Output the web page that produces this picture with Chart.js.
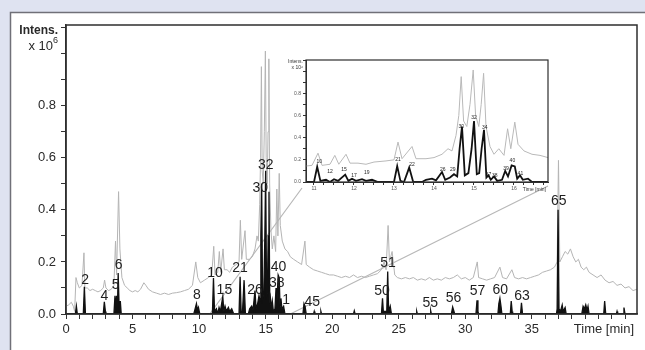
<!DOCTYPE html>
<html>
<head>
<meta charset="utf-8">
<script src="https://cdn.jsdelivr.net/npm/chart.js@4.4.1/dist/chart.umd.min.js"></script>
<style>
  html, body { margin: 0; padding: 0; background: #dfe3f1; }
  #wrap { position: relative; width: 645px; height: 350px; overflow: hidden; }
  #main { position: absolute; left: 0; top: 0; }
  #inset { position: absolute; left: 270px; top: 50px; }
</style>
</head>
<body>
<div id="wrap">
  <canvas id="main" width="645" height="350"></canvas>
  <canvas id="inset" width="290" height="150"></canvas>
</div>
<script>
// time in minutes, intensity in x10^6
// grey trace (total ion current)
const ticTime = [0.0, 0.2, 0.4, 0.55, 0.65, 0.75, 0.85, 1.0, 1.2, 1.35, 1.42, 1.6, 1.8, 2.0, 2.2, 2.4, 2.6, 2.8, 2.9, 3.0,
  3.2, 3.4, 3.6, 3.72, 3.8, 3.95, 4.05, 4.2, 4.4, 4.6, 4.8, 5.0, 5.2, 5.4, 5.6, 5.85, 6.0, 6.2, 6.5, 6.8,
  7.1, 7.4, 7.7, 8.0, 8.3, 8.6, 8.9, 9.2, 9.5, 9.75, 9.9, 10.1, 10.4, 10.7, 10.95, 11.1, 11.2, 11.4, 11.52, 11.62,
  11.8, 11.9, 12.1, 12.3, 12.5, 12.8, 13.0, 13.1, 13.2, 13.45, 13.55, 13.8, 14.0, 14.2, 14.35, 14.45, 14.55, 14.62, 14.68, 14.74,
  14.82, 14.9, 14.98, 15.04, 15.12, 15.18, 15.24, 15.3, 15.4, 15.5, 15.62, 15.75, 15.84, 15.92, 16.02, 16.1, 16.25, 16.45, 16.65, 16.85,
  17.1, 17.4, 17.7, 17.95, 18.05, 18.3, 18.6, 18.9, 19.2, 19.5, 19.8, 20.1, 20.4, 20.7, 21.0, 21.3, 21.6, 21.9, 22.2, 22.5,
  22.8, 23.1, 23.4, 23.7, 23.9, 24.05, 24.2, 24.3, 24.5, 24.7, 24.9, 25.2, 25.5, 25.8, 26.1, 26.4, 26.7, 27.0, 27.3, 27.6,
  27.9, 28.2, 28.5, 28.8, 29.1, 29.4, 29.7, 30.0, 30.3, 30.6, 30.9, 31.0, 31.3, 31.6, 31.9, 32.2, 32.6, 32.8, 33.1, 33.5,
  33.7, 34.0, 34.3, 34.6, 34.9, 35.2, 35.5, 35.8, 36.1, 36.4, 36.7, 36.9, 37.0, 37.1, 37.3, 37.5, 37.7, 37.9, 38.1, 38.3,
  38.5, 38.7, 38.9, 39.1, 39.3, 39.6, 39.9, 40.2, 40.5, 40.8, 41.1, 41.4, 41.7, 42.0, 42.3, 42.6, 42.9];
const ticIntens = [0.03, 0.035, 0.045, 0.03, 0.01, 0.14, 0.12, 0.10, 0.11, 0.235, 0.10, 0.10, 0.09, 0.095, 0.09, 0.085, 0.09, 0.10, 0.13, 0.10,
  0.09, 0.095, 0.11, 0.28, 0.15, 0.47, 0.25, 0.14, 0.11, 0.10, 0.09, 0.085, 0.09, 0.085, 0.095, 0.12, 0.11, 0.095, 0.085, 0.08,
  0.075, 0.08, 0.075, 0.08, 0.082, 0.085, 0.09, 0.095, 0.11, 0.20, 0.14, 0.12, 0.13, 0.14, 0.15, 0.26, 0.15, 0.16, 0.24, 0.16,
  0.25, 0.17, 0.17, 0.16, 0.18, 0.19, 0.20, 0.36, 0.21, 0.32, 0.21, 0.21, 0.22, 0.25, 0.30, 0.28, 0.42, 0.60, 0.95, 0.55,
  0.50, 0.70, 1.01, 0.60, 0.50, 0.70, 0.98, 0.50, 0.32, 0.25, 0.30, 0.24, 0.48, 0.30, 0.54, 0.34, 0.28, 0.25, 0.24, 0.22,
  0.21, 0.20, 0.19, 0.28, 0.19, 0.18, 0.17, 0.165, 0.16, 0.155, 0.15, 0.15, 0.145, 0.14, 0.145, 0.14, 0.15, 0.14, 0.145, 0.14,
  0.145, 0.15, 0.155, 0.17, 0.20, 0.17, 0.34, 0.20, 0.24, 0.15, 0.14, 0.135, 0.14, 0.135, 0.14, 0.13, 0.135, 0.13, 0.14, 0.13,
  0.135, 0.13, 0.14, 0.135, 0.14, 0.15, 0.135, 0.14, 0.13, 0.14, 0.20, 0.14, 0.135, 0.13, 0.135, 0.14, 0.18, 0.14, 0.135, 0.17,
  0.14, 0.135, 0.14, 0.135, 0.14, 0.145, 0.15, 0.16, 0.165, 0.17, 0.18, 0.20, 0.59, 0.20, 0.22, 0.24, 0.23, 0.25, 0.22, 0.20,
  0.21, 0.18, 0.17, 0.18, 0.16, 0.15, 0.14, 0.15, 0.13, 0.12, 0.125, 0.11, 0.115, 0.10, 0.105, 0.09, 0.095];

// black trace (extracted ion current)
const eicTime = [0.0, 0.7, 0.78, 0.85, 1.3, 1.38, 1.46, 2.8, 2.88, 2.96, 3.0, 3.6, 3.68, 3.74, 3.8, 3.86, 3.92, 4.0, 4.08, 4.15,
  9.6, 9.7, 9.8, 9.88, 9.95, 10.05, 11.0, 11.08, 11.16, 11.3, 11.4, 11.5, 11.6, 11.78, 11.86, 11.95, 12.05, 12.2, 12.3, 12.45,
  12.6, 13.0, 13.08, 13.16, 13.25, 13.38, 13.48, 13.7, 13.8, 13.95, 14.05, 14.2, 14.28, 14.4, 14.5, 14.58, 14.64, 14.7, 14.77, 14.86,
  14.94, 15.0, 15.07, 15.13, 15.19, 15.25, 15.31, 15.36, 15.42, 15.5, 15.58, 15.7, 15.78, 15.85, 15.94, 16.02, 16.08, 16.15, 16.22, 16.35,
  16.45, 17.8, 17.88, 17.96, 18.05, 18.6, 18.65, 18.7, 19.1, 19.15, 19.2, 21.6, 21.66, 21.72, 23.7, 23.78, 23.84, 24.1, 24.17, 24.24,
  24.36, 24.45, 26.3, 26.35, 26.4, 27.35, 27.4, 27.45, 28.95, 29.05, 29.15, 29.2, 30.8, 30.88, 30.95, 31.0, 32.45, 32.52, 32.6, 32.68,
  32.75, 33.38, 33.45, 33.52, 33.56, 34.15, 34.22, 34.3, 36.85, 36.9, 36.97, 37.04, 37.15, 37.28, 37.35, 37.5, 37.58, 38.75, 38.85, 38.95,
  39.05, 39.15, 39.22, 39.3, 40.4, 40.47, 40.55, 41.35, 41.4, 41.45, 41.85, 41.92, 42.0];
const eicIntens = [0, 0, 0.03, 0, 0, 0.105, 0, 0, 0.047, 0.01, 0, 0, 0.07, 0.01, 0.07, 0.01, 0.157, 0.01, 0.05, 0,
  0, 0.02, 0.04, 0.015, 0.025, 0, 0, 0.138, 0.01, 0.02, 0, 0.025, 0.01, 0.067, 0.01, 0.03, 0.01, 0.025, 0.01, 0.02,
  0, 0, 0.143, 0.01, 0, 0.13, 0, 0, 0.02, 0.03, 0.015, 0.09, 0.02, 0.04, 0.07, 0.05, 0.3, 0.5, 0.06, 0.08,
  0.3, 0.55, 0.07, 0.08, 0.3, 0.47, 0.04, 0.06, 0.02, 0.05, 0.01, 0.02, 0.10, 0.05, 0.15, 0.14, 0.03, 0.06, 0.02, 0.03,
  0, 0, 0.04, 0.03, 0, 0, 0.01, 0, 0, 0.01, 0, 0, 0.012, 0, 0, 0.06, 0.01, 0.01, 0.163, 0.01,
  0.03, 0, 0, 0.01, 0, 0, 0.012, 0, 0, 0.027, 0.01, 0, 0, 0.053, 0.01, 0, 0, 0.04, 0.06, 0.03,
  0, 0, 0.05, 0.01, 0, 0, 0.043, 0, 0, 0.02, 0.40, 0.02, 0.01, 0.035, 0.01, 0.025, 0, 0, 0.03, 0.02,
  0.035, 0.015, 0.03, 0, 0, 0.05, 0, 0, 0.01, 0, 0, 0.025, 0];

// peak numbers on the main chart
const peakNames = ['2', '4', '5', '6', '8', '10', '15', '21', '26', '30', '32', '38', '40', '1', '45', '50', '51', '55', '56', '57', '60', '63', '65'];
const peakTime = [1.43, 2.88, 3.73, 3.96, 9.83, 11.2, 11.9, 13.08, 14.2, 14.6, 15.01, 15.84, 15.96, 16.54, 18.5, 23.74, 24.19, 27.37, 29.12, 30.92, 32.63, 34.26, 37.02];
const peakLevel = [0.131, 0.067, 0.11, 0.186, 0.073, 0.157, 0.092, 0.176, 0.092, 0.483, 0.573, 0.118, 0.18, 0.054, 0.047, 0.086, 0.195, 0.041, 0.06, 0.086, 0.092, 0.067, 0.432];

// peak numbers on the zoomed inset
const insetNames = ['10', '12', '15', '17', '19', '21', '22', '26', '29', '30', '32', '34', '37', '38', '39', '40', '41'];
const insetTime = [11.13, 11.4, 11.75, 12.0, 12.32, 13.1, 13.45, 14.22, 14.47, 14.68, 15.0, 15.27, 15.36, 15.52, 15.8, 15.96, 16.16];
const insetLevel = [0.18, 0.09, 0.11, 0.055, 0.085, 0.2, 0.16, 0.11, 0.11, 0.5, 0.58, 0.49, 0.065, 0.055, 0.125, 0.19, 0.073];

const zoomRange = [10.8, 16.85];

const family = "'Liberation Sans Narrow', 'Liberation Sans', Arial, sans-serif";

function toPoints(xs, ys) {
  return xs.map((x, i) => ({x: x, y: ys[i]}));
}

function labelPlugin(names, times, levels, font) {
  return {
    id: 'peakText',
    afterDatasetsDraw(chart) {
      const c = chart.ctx, xs = chart.scales.x, ys = chart.scales.y;
      c.save();
      c.font = font;
      c.fillStyle = '#1e1e1e';
      c.textAlign = 'center';
      c.textBaseline = 'middle';
      names.forEach((n, i) => {
        c.fillText(n, xs.getPixelForValue(times[i]), ys.getPixelForValue(levels[i]));
      });
      c.restore();
    }
  };
}

function boxPlugin(width) {
  return {
    id: 'box',
    afterDatasetsDraw(chart) {
      const a = chart.chartArea, c = chart.ctx;
      c.save();
      c.strokeStyle = '#2e2e2e';
      c.lineWidth = width;
      c.strokeRect(a.left, a.top, a.right - a.left, a.bottom - a.top);
      c.restore();
    }
  };
}

// ---------- inset ----------
const insetCanvas = document.getElementById('inset');
const insetTitles = {
  id: 'insetTitles',
  afterDraw(chart) {
    const c = chart.ctx, a = chart.chartArea;
    c.save();
    c.fillStyle = '#333';
    c.font = "5px " + family;
    c.textAlign = 'right';
    c.fillText('Intens.', a.left - 3, a.top + 3);
    c.fillText('x 10\u2076', a.left - 3, a.top + 9);
    c.fillText('Time [min]', a.right - 2, a.bottom + 9);
    c.restore();
  }
};

const insetChart = new Chart(insetCanvas.getContext('2d'), {
  type: 'line',
  data: {
    datasets: [{
      data: toPoints(eicTime, eicIntens),
      borderColor: '#111',
      borderWidth: 1.8,
      pointRadius: 0,
      tension: 0
    }, {
      data: toPoints(ticTime, ticIntens),
      borderColor: '#b9b9b9',
      borderWidth: 1,
      pointRadius: 0,
      tension: 0
    }]
  },
  options: {
    responsive: false,
    animation: false,
    events: [],
    layout: { padding: { left: 6, top: 10, right: 12, bottom: 6 } },
    plugins: { legend: { display: false }, tooltip: { enabled: false } },
    scales: {
      x: {
        type: 'linear',
        min: zoomRange[0],
        max: zoomRange[1],
        afterFit(scale) { scale.height = 12; },
        grid: { drawOnChartArea: false, tickLength: 3, color: '#333' },
        border: { color: '#333' },
        ticks: {
          stepSize: 0.25,
          includeBounds: false,
          autoSkip: false,
          maxRotation: 0,
          padding: 1,
          color: '#555',
          font: { size: 5, family: family },
          callback: (v) => (Math.abs(v - Math.round(v)) < 0.01 && v < 16.5) ? String(Math.round(v)) : ''
        }
      },
      y: {
        min: 0,
        max: 1.1,
        afterFit(scale) { scale.width = 30; },
        grid: { drawOnChartArea: false, tickLength: 3, color: '#333' },
        border: { color: '#333' },
        ticks: {
          stepSize: 0.1,
          includeBounds: false,
          autoSkip: false,
          padding: 2,
          color: '#555',
          font: { size: 5, family: family },
          callback: (v) => {
            const r = Math.round(v * 10);
            return (r % 2 === 0 && r <= 8) ? (r / 10).toFixed(1) : '';
          }
        }
      }
    }
  },
  plugins: [boxPlugin(1.2), labelPlugin(insetNames, insetTime, insetLevel, "5px " + family), insetTitles]
});

// ---------- main chart ----------
const frame = {
  id: 'frame',
  beforeDraw(chart) {
    const c = chart.ctx;
    c.save();
    c.fillStyle = '#dfe3f1';
    c.fillRect(0, 0, chart.width, chart.height);
    c.fillStyle = '#ffffff';
    c.fillRect(10, 12, chart.width - 10, chart.height - 12);
    c.strokeStyle = '#707078';
    c.lineWidth = 1.5;
    c.beginPath();
    c.moveTo(10.5, chart.height);
    c.lineTo(10.5, 12.5);
    c.lineTo(chart.width, 12.5);
    c.stroke();
    c.restore();
  }
};

const connectors = {
  id: 'connectors',
  beforeDatasetsDraw(chart) {
    const ia = insetChart.chartArea;
    const ox = insetCanvas.offsetLeft, oy = insetCanvas.offsetTop;
    const xs = chart.scales.x, ys = chart.scales.y;
    const c = chart.ctx;
    c.save();
    c.strokeStyle = '#b8b8b8';
    c.lineWidth = 1.2;
    c.beginPath();
    c.moveTo(xs.getPixelForValue(zoomRange[0]), ys.getPixelForValue(0));
    c.lineTo(ox + ia.left - 4, oy + ia.bottom + 6);
    c.moveTo(xs.getPixelForValue(zoomRange[1]), ys.getPixelForValue(0));
    c.lineTo(ox + ia.right, oy + ia.bottom + 4);
    c.stroke();
    c.restore();
  }
};

const axisTitles = {
  id: 'axisTitles',
  afterDraw(chart) {
    const c = chart.ctx, a = chart.chartArea;
    c.save();
    c.fillStyle = '#2a2a2a';
    c.textAlign = 'right';
    c.textBaseline = 'middle';
    c.font = "bold 12px " + family;
    c.fillText('Intens.', a.left - 8, 31);
    c.font = "13px " + family;
    c.fillText('x 10', a.left - 13, 46);
    c.font = "9px " + family;
    c.fillText('6', a.left - 8, 41);
    c.font = "13px " + family;
    c.fillText('Time [min]', a.right - 3, a.bottom + 15);
    c.restore();
  }
};

new Chart(document.getElementById('main').getContext('2d'), {
  type: 'line',
  data: {
    datasets: [{
      data: toPoints(eicTime, eicIntens),
      borderColor: '#111',
      backgroundColor: '#111',
      borderWidth: 1.3,
      fill: 'origin',
      pointRadius: 0,
      tension: 0
    }, {
      data: toPoints(ticTime, ticIntens),
      borderColor: '#b5b5b5',
      borderWidth: 1,
      pointRadius: 0,
      tension: 0
    }]
  },
  options: {
    responsive: false,
    animation: false,
    events: [],
    layout: { padding: { left: 10, top: 25, right: 8, bottom: 6 } },
    plugins: { legend: { display: false }, tooltip: { enabled: false } },
    scales: {
      x: {
        type: 'linear',
        min: 0,
        max: 42.9,
        afterFit(scale) { scale.height = 30; },
        grid: { drawOnChartArea: false, tickLength: 5, color: '#333' },
        border: { color: '#333', width: 1.5 },
        ticks: {
          stepSize: 1,
          includeBounds: false,
          autoSkip: false,
          maxRotation: 0,
          padding: 3,
          color: '#2a2a2a',
          font: { size: 13, family: family },
          callback: (v) => (v % 5 === 0 && v <= 35) ? String(v) : ''
        }
      },
      y: {
        min: 0,
        max: 1.11,
        afterFit(scale) { scale.width = 56; },
        grid: { drawOnChartArea: false, tickLength: 5, color: '#333' },
        border: { color: '#333', width: 1.5 },
        ticks: {
          stepSize: 0.1,
          includeBounds: false,
          autoSkip: false,
          padding: 5,
          color: '#2a2a2a',
          font: { size: 13, family: family },
          callback: (v) => {
            const r = Math.round(v * 10);
            return (r % 2 === 0 && r <= 8) ? (r / 10).toFixed(1) : '';
          }
        }
      }
    }
  },
  plugins: [frame, connectors, boxPlugin(1.5), labelPlugin(peakNames, peakTime, peakLevel, "14px " + family), axisTitles]
});
</script>
</body>
</html>
